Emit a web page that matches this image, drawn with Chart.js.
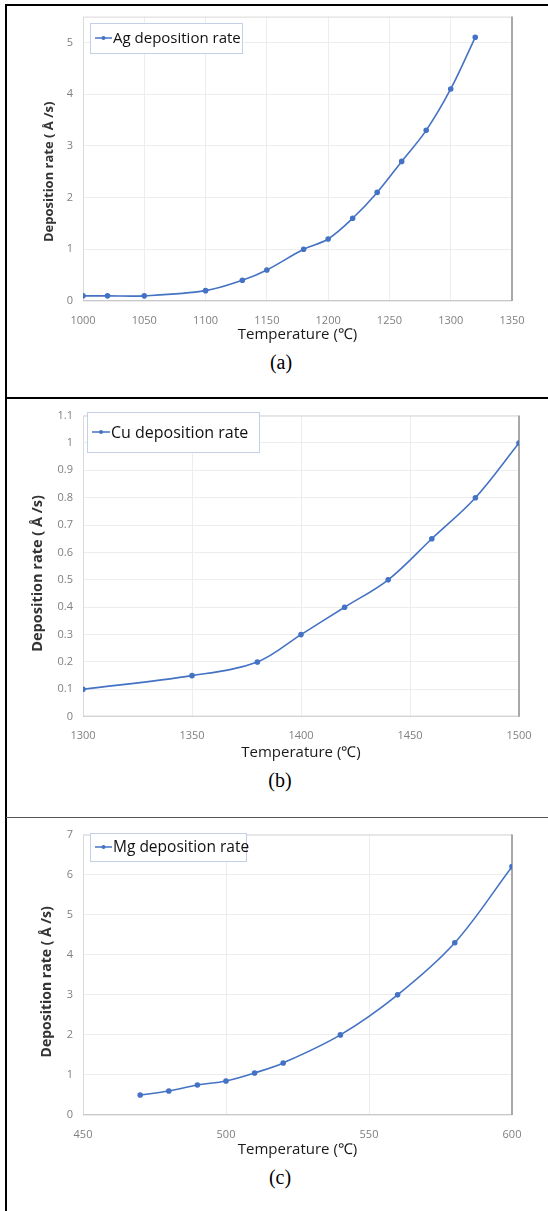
<!DOCTYPE html>
<html>
<head>
<meta charset="utf-8">
<script src="https://cdn.jsdelivr.net/npm/chart.js@4.4.1/dist/chart.umd.min.js"></script>
<style>
  html, body { margin: 0; padding: 0; background: #fff; }
  #page { position: relative; width: 548px; height: 1211px; overflow: hidden; background: #fff; }
  canvas { position: absolute; left: 0; }
  .rule { position: absolute; z-index: 2; }
  .cap { position: absolute; width: 60px; text-align: center; font-family: "Liberation Serif", "DejaVu Serif", serif; font-size: 20px; color: #000; line-height: 20px; }
</style>
</head>
<body>
<div id="page">
  <canvas id="agChart"></canvas>
  <canvas id="cuChart"></canvas>
  <canvas id="mgChart"></canvas>

  <div class="rule" style="left:6px; top:4px; width:542px; height:2px; background:#000;"></div>
  <div class="rule" style="left:5px; top:4px; width:2px; height:1207px; background:#000;"></div>
  <div class="rule" style="left:6px; top:397px; width:542px; height:2px; background:#000;"></div>
  <div class="rule" style="left:6px; top:817px; width:542px; height:1px; background:#555;"></div>

  <div class="cap" style="left:251px; top:352px;">(a)</div>
  <div class="cap" style="left:250px; top:770px;">(b)</div>
  <div class="cap" style="left:250px; top:1167px;">(c)</div>
</div>

<script>
// ---- data ----
var agTemps = [1000, 1020, 1050, 1100, 1130, 1150, 1180, 1200, 1220, 1240, 1260, 1280, 1300, 1320];
var agRates = [0.1, 0.1, 0.1, 0.2, 0.4, 0.6, 1.0, 1.2, 1.6, 2.1, 2.7, 3.3, 4.1, 5.1];

var cuTemps = [1300, 1350, 1380, 1400, 1420, 1440, 1460, 1480, 1500];
var cuRates = [0.1, 0.15, 0.2, 0.3, 0.4, 0.5, 0.65, 0.8, 1.0];

var mgTemps = [470, 480, 490, 500, 510, 520, 540, 560, 580, 600];
var mgRates = [0.5, 0.6, 0.75, 0.85, 1.05, 1.3, 2.0, 3.0, 4.3, 6.2];

// axis ranges: [min, max, step]
var agXAxis = [1000, 1350, 50];
var agYAxis = [0, 5.5, 1];
var cuXAxis = [1300, 1500, 50];
var cuYAxis = [0, 1.1, 0.1];
var mgXAxis = [450, 600, 50];
var mgYAxis = [0, 7, 1];

var xTitle = "Temperature (\u2103)";
var yTitle = "Deposition rate ( \u00C5 /s)";

var BLUE = "#4472C4";

// legend box drawn inside the plot, like the Excel one
var insideLegend = {
    id: "insideLegend",
    afterDraw: function (chart, args, opts) {
        var ctx = chart.ctx;
        var ds = chart.data.datasets[0];
        var cy = opts.y + opts.h / 2;
        ctx.save();
        ctx.fillStyle = "#fff";
        ctx.fillRect(opts.x, opts.y, opts.w, opts.h);
        ctx.strokeStyle = "#c3d0e8";
        ctx.lineWidth = 1;
        ctx.strokeRect(opts.x + 0.5, opts.y + 0.5, opts.w, opts.h);
        ctx.strokeStyle = ds.borderColor;
        ctx.lineWidth = 1.5;
        ctx.beginPath();
        ctx.moveTo(opts.x + 5, cy);
        ctx.lineTo(opts.x + 5 + opts.line, cy);
        ctx.stroke();
        ctx.fillStyle = ds.borderColor;
        ctx.beginPath();
        ctx.arc(opts.x + 5 + opts.line / 2, cy, 2, 0, Math.PI * 2);
        ctx.fill();
        ctx.fillStyle = "#111";
        ctx.font = opts.size + "px 'Open Sans', sans-serif";
        ctx.textBaseline = "middle";
        ctx.fillText(ds.label, opts.x + 6 + opts.line, cy + 1);
        ctx.restore();
    }
};

// plot area frame
var plotFrame = {
    id: "plotFrame",
    beforeDatasetsDraw: function (chart) {
        var a = chart.chartArea;
        var ctx = chart.ctx;
        ctx.save();
        ctx.lineWidth = 1;
        ctx.strokeStyle = "#d9d9d9";
        ctx.beginPath();
        ctx.moveTo(a.left + 0.5, a.bottom);
        ctx.lineTo(a.left + 0.5, a.top + 0.5);
        ctx.lineTo(a.right, a.top + 0.5);
        ctx.stroke();
        ctx.strokeStyle = "#c8c8c8";
        ctx.beginPath();
        ctx.moveTo(a.left, a.bottom - 0.5);
        ctx.lineTo(a.right, a.bottom - 0.5);
        ctx.stroke();
        ctx.strokeStyle = "#a8a8a8";
        ctx.lineWidth = 2;
        ctx.beginPath();
        ctx.moveTo(a.right, a.top);
        ctx.lineTo(a.right, a.bottom);
        ctx.stroke();
        ctx.restore();
    }
};

function makeChart(id, label, temps, rates, xAxis, yAxis, lay) {

    var canvas = document.getElementById(id);
    var height = Math.round(lay.bottom + (lay.xTitleY - lay.bottom) + 9 + 2 - lay.canvasTop);
    canvas.width = 548;
    canvas.height = height;
    canvas.style.top = lay.canvasTop + "px";

    var points = temps.map(function (t, i) {
        return { x: t, y: rates[i] };
    });

    return new Chart(canvas, {

        type: "line",

        data: {
            datasets: [{
                label: label,
                data: points,
                borderColor: BLUE,
                backgroundColor: BLUE,
                borderWidth: 1.6,
                pointRadius: 2,
                pointHoverRadius: 2,
                tension: 0.35,
                fill: false
            }]
        },

        options: {
            responsive: false,
            animation: false,
            devicePixelRatio: 1,
            layout: {
                padding: {
                    top: lay.top - lay.canvasTop,
                    right: 548 - lay.right,
                    left: 0,
                    bottom: 0
                }
            },
            plugins: {
                legend: { display: false },
                tooltip: { enabled: false },
                insideLegend: {
                    x: lay.legend[0],
                    y: lay.legend[1] - lay.canvasTop,
                    w: lay.legend[2],
                    h: lay.legend[3],
                    line: lay.legend[4],
                    size: lay.legend[5]
                }
            },
            scales: {
                x: {
                    type: "linear",
                    min: xAxis[0],
                    max: xAxis[1],
                    border: { display: false },
                    grid: { color: "#ededed", drawTicks: false },
                    ticks: {
                        stepSize: xAxis[2],
                        autoSkip: false,
                        maxRotation: 0,
                        padding: 13,
                        color: "#7f7f7f",
                        font: { family: "'Open Sans', sans-serif", size: 11 },
                        callback: function (v) {
                            return String(v);
                        }
                    },
                    title: {
                        display: true,
                        text: xTitle,
                        color: "#1a1a1a",
                        padding: { top: 0, bottom: 2 },
                        font: { family: "'Open Sans', sans-serif", size: 15 }
                    },
                    afterFit: function (scale) {
                        scale.height = height + lay.canvasTop - lay.bottom;
                    }
                },
                y: {
                    min: yAxis[0],
                    max: yAxis[1],
                    border: { display: false },
                    grid: { color: "#ededed", drawTicks: false },
                    ticks: {
                        stepSize: yAxis[2],
                        includeBounds: false,
                        padding: 10,
                        color: "#7f7f7f",
                        font: { family: "'Open Sans', sans-serif", size: 11 },
                        callback: function (v) {
                            return String(Number(v.toFixed(2)));
                        }
                    },
                    title: {
                        display: true,
                        text: yTitle + lay.yTitleTail,
                        color: "#333",
                        padding: { top: lay.yTitleX - 8.4, bottom: 0 },
                        font: { family: "'Open Sans', sans-serif", size: lay.yTitleSize, weight: "bold" }
                    },
                    afterFit: function (scale) {
                        scale.width = lay.left;
                    }
                }
            }
        },

        plugins: [plotFrame, insideLegend]
    });
}

makeChart("agChart", "Ag deposition rate", agTemps, agRates, agXAxis, agYAxis, {
    canvasTop: 0, top: 14, bottom: 301, left: 83, right: 512,
    xTitleY: 335, yTitleX: 50, yTitleSize: 13, yTitleTail: "\u2002\u2002\u2002\u2002",
    legend: [90, 23, 152, 30, 17, 15]
});

makeChart("cuChart", "Cu deposition rate", cuTemps, cuRates, cuXAxis, cuYAxis, {
    canvasTop: 399, top: 409.5, bottom: 716.7, left: 83, right: 519,
    xTitleY: 753.3, yTitleX: 37.6, yTitleSize: 14.5, yTitleTail: "\u2002\u2002",
    legend: [87, 412, 172, 40, 18, 16]
});

makeChart("mgChart", "Mg deposition rate", mgTemps, mgRates, mgXAxis, mgYAxis, {
    canvasTop: 818, top: 826, bottom: 1115, left: 83, right: 512,
    xTitleY: 1150, yTitleX: 47, yTitleSize: 14, yTitleTail: "\u2002\u2002",
    legend: [90, 833, 156, 28, 17, 15.5]
});
</script>
</body>
</html>
